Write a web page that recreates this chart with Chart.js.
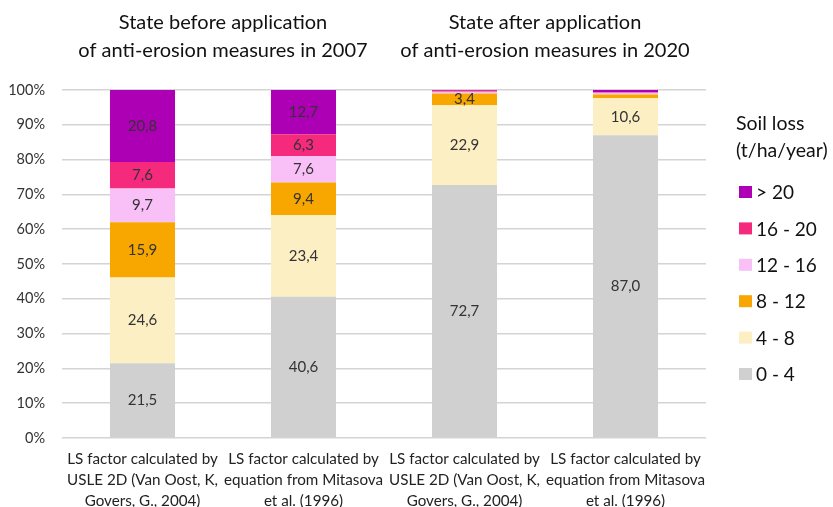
<!DOCTYPE html>
<html lang="en">
<head>
    <meta charset="UTF-8">
    <title>Soil loss - LS factor</title>
    <script src="https://cdn.jsdelivr.net/npm/chart.js"></script>
    <style>
        body { margin: 0; background: #fff; }
        .chart-container { position: relative; width: 833px; height: 507px; }
    </style>
</head>
<body>
<div class="chart-container">
    <canvas id="soilChart"></canvas>
</div>
<script>
// categories (multi-line x labels)
const categories = [
    ['LS factor calculated by', 'USLE 2D (Van Oost, K,', 'Govers, G., 2004)'],
    ['LS factor calculated by', 'equation from Mitasova', 'et al. (1996)'],
    ['LS factor calculated by', 'USLE 2D (Van Oost, K,', 'Govers, G., 2004)'],
    ['LS factor calculated by', 'equation from Mitasova', 'et al. (1996)']
];

// group titles over each pair of bars
const groupTitles = [
    ['State before application', 'of anti-erosion measures in 2007'],
    ['State after application', 'of anti-erosion measures in 2020']
];

const legendTitle = ['Soil loss', '(t/ha/year)'];

// soil loss classes, bottom to top (% of area)
const loss0to4   = [21.5, 40.6, 72.7, 87.0];
const loss4to8   = [24.6, 23.4, 22.9, 10.6];
const loss8to12  = [15.9,  9.4,  3.4,  1.1];
const loss12to16 = [ 9.7,  7.6,  0.5,  0.5];
const loss16to20 = [ 7.6,  6.3,  0.3,  0.2];
const lossOver20 = [20.8, 12.7,  0.2,  0.6];

const yTicks = [0, 10, 20, 30, 40, 50, 60, 70, 80, 90, 100];

const FONT = 'Lato, "Open Sans", sans-serif';
const fmt = v => v.toFixed(1).replace('.', ',');

// draws values inside segments, group titles and the legend on the right
const extras = {
    id: 'extras',
    afterDatasetsDraw(chart) {
        const ctx = chart.ctx;
        ctx.save();
        ctx.font = '15px ' + FONT;
        ctx.fillStyle = '#333';
        ctx.textAlign = 'center';
        ctx.textBaseline = 'middle';
        chart.data.datasets.forEach((ds, i) => {
            chart.getDatasetMeta(i).data.forEach((bar, j) => {
                const v = ds.data[j];
                if (v < 3) return;
                const p = bar.getProps(['x', 'y', 'base'], true);
                ctx.fillText(fmt(v), p.x, (p.y + p.base) / 2);
            });
        });
        ctx.restore();
    },
    afterDraw(chart) {
        const ctx = chart.ctx;
        const xs = chart.scales.x;
        ctx.save();
        ctx.fillStyle = '#111';
        ctx.textAlign = 'center';
        ctx.textBaseline = 'middle';
        ctx.font = '20px ' + FONT;
        groupTitles.forEach((lines, g) => {
            const cx = (xs.getPixelForValue(g * 2) + xs.getPixelForValue(g * 2 + 1)) / 2;
            lines.forEach((t, k) => ctx.fillText(t, cx, 23 + k * 28));
        });

        // legend
        ctx.textAlign = 'left';
        ctx.font = '19.5px ' + FONT;
        ctx.fillStyle = '#111';
        legendTitle.forEach((t, k) => ctx.fillText(t, 736, 124 + k * 27));
        ctx.font = '19px ' + FONT;
        const n = chart.data.datasets.length;
        for (let k = 0; k < n; k++) {
            const ds = chart.data.datasets[n - 1 - k];
            const y = 192 + k * 36.4;
            ctx.fillStyle = ds.backgroundColor;
            ctx.fillRect(739, y - 6, 13, 12);
            ctx.fillStyle = '#111';
            ctx.fillText(ds.label, 756, y + 1);
        }
        ctx.restore();
    }
};

const ctx = document.getElementById('soilChart').getContext('2d');
new Chart(ctx, {
    type: 'bar',
    data: {
        labels: categories,
        datasets: [
            { label: '0 - 4',   data: loss0to4,   backgroundColor: '#d0d0d0' },
            { label: '4 - 8',   data: loss4to8,   backgroundColor: '#fcefc3' },
            { label: '8 - 12',  data: loss8to12,  backgroundColor: '#f7a700' },
            { label: '12 - 16', data: loss12to16, backgroundColor: '#f8c0f6' },
            { label: '16 - 20', data: loss16to20, backgroundColor: '#f52a7c' },
            { label: '> 20',    data: lossOver20, backgroundColor: '#ad00b5' }
        ]
    },
    options: {
        responsive: true,
        maintainAspectRatio: false,
        animation: false,
        layout: { padding: { top: 90, right: 127, left: 6, bottom: 0 } },
        datasets: { bar: { categoryPercentage: 1, barPercentage: 0.404, borderWidth: 0 } },
        scales: {
            x: {
                stacked: true,
                grid: { display: false },
                border: { display: false },
                ticks: {
                    color: '#222',
                    font: { family: FONT, size: 15.2, lineHeight: 1.4 },
                    maxRotation: 0,
                    autoSkip: false,
                    padding: 2
                },
                afterFit: s => { s.height = 69; }
            },
            y: {
                stacked: true,
                min: 0,
                max: 100,
                afterBuildTicks: s => { s.ticks = yTicks.map(v => ({ value: v })); },
                grid: { color: '#d4d4d4', lineWidth: 1.5, drawTicks: false },
                border: { display: false },
                ticks: {
                    color: '#333',
                    font: { family: FONT, size: 14.5 },
                    padding: 17,
                    callback: v => v + '%'
                },
                afterFit: s => { s.width = 56; }
            }
        },
        plugins: {
            legend: { display: false },
            tooltip: { enabled: false }
        }
    },
    plugins: [extras]
});
</script>
</body>
</html>
